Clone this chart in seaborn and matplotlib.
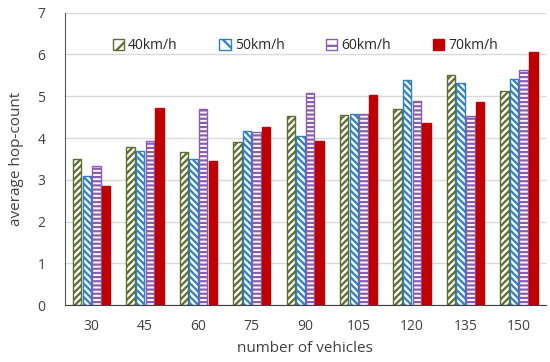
import numpy as np
import pandas as pd
import seaborn as sns
import matplotlib
matplotlib.use('Agg')
import matplotlib.pyplot as plt

vehicles = ['30', '45', '60', '75', '90', '105', '120', '135', '150']
speeds = ['40km/h', '50km/h', '60km/h', '70km/h']
hop_40 = [3.50, 3.78, 3.66, 3.90, 4.52, 4.54, 4.70, 5.52, 5.12]
hop_50 = [3.10, 3.69, 3.49, 4.18, 4.04, 4.58, 5.38, 5.31, 5.41]
hop_60 = [3.33, 3.92, 4.70, 4.14, 5.07, 4.58, 4.88, 4.52, 5.62]
hop_70 = [2.86, 4.72, 3.45, 4.26, 3.92, 5.03, 4.35, 4.87, 6.07]

colors = ['#5b6e2e', '#2b80c3', '#8b5cb0', '#c00000']
hatches = ['/////', '\\\\\\\\\\', '----', None]

rows = []
for s, vals in zip(speeds, [hop_40, hop_50, hop_60, hop_70]):
    for v, h in zip(vehicles, vals):
        rows.append({'vehicles': v, 'speed': s, 'hop': h})
df = pd.DataFrame(rows)

sns.set_style('white')
plt.rcParams['font.family'] = ['Open Sans', 'DejaVu Sans']
plt.rcParams['hatch.linewidth'] = 1.6

fig = plt.figure(figsize=(5.5, 3.62), dpi=100)
ax = fig.add_axes([0.118, 0.157, 0.874, 0.808])
sns.barplot(data=df, x='vehicles', y='hop', hue='speed', order=vehicles,
            hue_order=speeds, palette=colors, width=0.72, gap=0.12, ax=ax)

for cont, c, h in zip(ax.containers, colors, hatches):
    for p in cont:
        if h is None:
            p.set_facecolor(c)
            p.set_edgecolor(c)
        else:
            p.set_facecolor('white')
            p.set_edgecolor(c)
            p.set_hatch(h)
        p.set_linewidth(1.0)

ax.set_ylim(0, 7)
ax.set_yticks(range(0, 8))
ax.yaxis.grid(True, color='#d9d9d9', linewidth=1)
ax.set_axisbelow(True)
for side in ['top', 'right']:
    ax.spines[side].set_visible(False)
ax.spines['left'].set_color('#595959')
ax.spines['bottom'].set_color('#404040')
ax.tick_params(axis='x', length=0, labelsize=10, colors='#404040', pad=10)
ax.tick_params(axis='y', length=0, labelsize=10, colors='#404040', pad=14)
ax.set_xlabel('number of vehicles', fontsize=11, color='#404040', labelpad=5)
ax.set_ylabel('average hop-count', fontsize=11, color='#404040', labelpad=10)

handles, labels = ax.get_legend_handles_labels()
ax.legend(handles, labels, loc='upper center', bbox_to_anchor=(0.5, 0.955), ncol=4,
          frameon=False, fontsize=10, handlelength=0.8, handleheight=0.8,
          columnspacing=3.0, handletextpad=0.3, labelcolor='#262626')
for lh, c, h in zip(ax.get_legend().legend_handles, colors, hatches):
    if h is None:
        lh.set_facecolor(c)
        lh.set_edgecolor(c)
    else:
        lh.set_facecolor('white')
        lh.set_edgecolor(c)
        lh.set_hatch(h[:2])

fig.savefig('out.png', dpi=100)
